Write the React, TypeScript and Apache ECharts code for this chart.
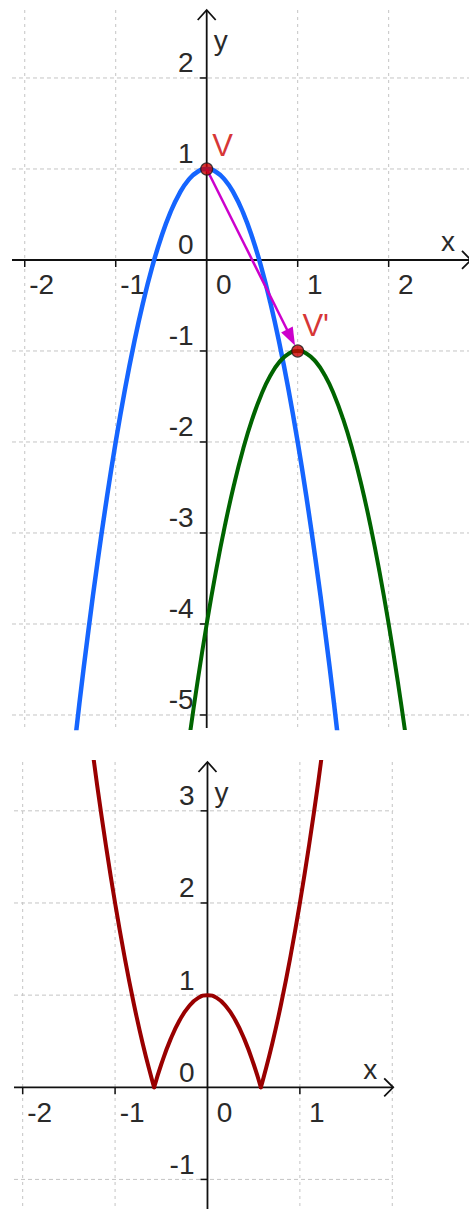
import React, { useEffect, useRef } from "react";
import * as echarts from "echarts";

const FONT = 'Arial, "Liberation Sans", Helvetica, sans-serif';

// ---------- Top panel (f(x) = -3x^2 + 1 and its translate) ----------
const topXRange = [-2.14, 2.905];
const topYRange = [-5.143, 2.747];
const topXGrid = [-2, -1, 1, 2];
const topYGrid = [2, 1, -1, -2, -3, -4, -5];
const topXTicks = [-2, -1, 1, 2];
const topYTicks = [2, 1, -1, -2, -3, -4, -5];
const topXLabels = [-2, -1, 0, 1, 2];
const topYLabels = [2, 1, 0, -1, -2, -3, -4, -5];

const blueCurve = [
  [-1.5, -5.75], [-1.4, -4.88], [-1.3, -4.07], [-1.2, -3.32], [-1.1, -2.63],
  [-1.0, -2.0], [-0.9, -1.43], [-0.8, -0.92], [-0.7, -0.47], [-0.6, -0.08],
  [-0.5, 0.25], [-0.4, 0.52], [-0.3, 0.73], [-0.2, 0.88], [-0.1, 0.97],
  [0, 1], [0.1, 0.97], [0.2, 0.88], [0.3, 0.73], [0.4, 0.52], [0.5, 0.25],
  [0.6, -0.08], [0.7, -0.47], [0.8, -0.92], [0.9, -1.43], [1.0, -2.0],
  [1.1, -2.63], [1.2, -3.32], [1.3, -4.07], [1.4, -4.88], [1.5, -5.75],
];

const greenCurve = [
  [-0.4, -6.88], [-0.3, -6.07], [-0.2, -5.32], [-0.1, -4.63], [0, -4],
  [0.1, -3.43], [0.2, -2.92], [0.3, -2.47], [0.4, -2.08], [0.5, -1.75],
  [0.6, -1.48], [0.7, -1.27], [0.8, -1.12], [0.9, -1.03], [1.0, -1],
  [1.1, -1.03], [1.2, -1.12], [1.3, -1.27], [1.4, -1.48], [1.5, -1.75],
  [1.6, -2.08], [1.7, -2.47], [1.8, -2.92], [1.9, -3.43], [2.0, -4],
  [2.1, -4.63], [2.2, -5.32], [2.3, -6.07], [2.4, -6.88],
];

const points = [
  { name: "V", value: [0, 1], offset: [16, -23] },
  { name: "V'", value: [1, -1], offset: [18, -25] },
];
const vector = [[0, 1, 1, -1]];

// ---------- Bottom panel (|3x^2 - 1|) ----------
const botXRange = [-2.094, 2.01];
const botYRange = [-1.321, 3.53];
const botXGrid = [-2, -1, 1, 2];
const botYGrid = [3, 2, 1, -1];
const botXTicks = [-2, -1, 1];
const botYTicks = [3, 2, 1, -1];
const botXLabels = [-2, -1, 0, 1];
const botYLabels = [3, 2, 1, 0, -1];

const redLeft = [
  [-1.3, 4.07], [-1.2, 3.32], [-1.1, 2.63], [-1.0, 2.0], [-0.9, 1.43],
  [-0.8, 0.92], [-0.7, 0.47], [-0.6, 0.08], [-0.577, 0],
];
const redMiddle = [
  [-0.577, 0], [-0.5, 0.25], [-0.4, 0.52], [-0.3, 0.73], [-0.2, 0.88],
  [-0.1, 0.97], [0, 1], [0.1, 0.97], [0.2, 0.88], [0.3, 0.73], [0.4, 0.52],
  [0.5, 0.25], [0.577, 0],
];
const redRight = [
  [0.577, 0], [0.6, 0.08], [0.7, 0.47], [0.8, 0.92], [0.9, 1.43],
  [1.0, 2.0], [1.1, 2.63], [1.2, 3.32], [1.3, 4.07],
];

// ---------- styles ----------
const GRID_COLOR = "#c4c4c4";
const AXIS_COLOR = "#111";
const LABEL_COLOR = "#2a2a2a";
const LABEL_SIZE = 28;

function fmt(v: number) {
  return v < 0 ? "-" + Math.abs(v) : String(v);
}

function base(gi: number, z: number) {
  return {
    type: "custom",
    coordinateSystem: "cartesian2d",
    xAxisIndex: gi,
    yAxisIndex: gi,
    silent: true,
    z,
  };
}

function textEl(x: number, y: number, text: string, align: string, size = LABEL_SIZE, fill = LABEL_COLOR) {
  return {
    type: "text",
    x,
    y,
    style: { text, fill, fontSize: size, fontFamily: FONT, align, verticalAlign: "middle" },
  };
}

function panelSeries(
  gi: number,
  xGrid: number[],
  yGrid: number[],
  xTicks: number[],
  yTicks: number[],
  xLabels: number[],
  yLabels: number[]
) {
  return [
    {
      ...base(gi, 1),
      data: xGrid.map((v) => [v, 0]),
      renderItem: (params: any, api: any) => {
        const cs = params.coordSys;
        const p = api.coord([api.value(0), 0]);
        return {
          type: "line",
          shape: { x1: p[0], y1: cs.y, x2: p[0], y2: cs.y + cs.height },
          style: { stroke: GRID_COLOR, lineWidth: 1, lineDash: [3, 4] },
        };
      },
    },
    {
      ...base(gi, 1),
      data: yGrid.map((v) => [0, v]),
      renderItem: (params: any, api: any) => {
        const cs = params.coordSys;
        const p = api.coord([0, api.value(1)]);
        return {
          type: "line",
          shape: { x1: cs.x, y1: p[1], x2: cs.x + cs.width, y2: p[1] },
          style: { stroke: GRID_COLOR, lineWidth: 1, lineDash: [4, 3] },
        };
      },
    },
    {
      ...base(gi, 2),
      data: xTicks.map((v) => [v, 0]),
      renderItem: (params: any, api: any) => {
        const p = api.coord([api.value(0), 0]);
        return {
          type: "line",
          shape: { x1: p[0], y1: p[1], x2: p[0], y2: p[1] + 7 },
          style: { stroke: AXIS_COLOR, lineWidth: 1.5 },
        };
      },
    },
    {
      ...base(gi, 2),
      data: yTicks.map((v) => [0, v]),
      renderItem: (params: any, api: any) => {
        const p = api.coord([0, api.value(1)]);
        return {
          type: "line",
          shape: { x1: p[0] - 7, y1: p[1], x2: p[0], y2: p[1] },
          style: { stroke: AXIS_COLOR, lineWidth: 1.5 },
        };
      },
    },
    {
      ...base(gi, 2),
      data: xLabels.map((v) => [v, 0]),
      renderItem: (params: any, api: any) => {
        const v = api.value(0);
        const p = api.coord([v, 0]);
        return textEl(p[0] + 17, p[1] + 25, fmt(v), "center");
      },
    },
    {
      ...base(gi, 2),
      data: yLabels.map((v) => [0, v]),
      renderItem: (params: any, api: any) => {
        const v = api.value(1);
        const p = api.coord([0, v]);
        return textEl(p[0] - 13, p[1] - 15, fmt(v), "right");
      },
    },
    {
      ...base(gi, 2),
      data: [[0, 0]],
      renderItem: (params: any, api: any) => {
        const cs = params.coordSys;
        const o = api.coord([0, 0]);
        const R = cs.x + cs.width;
        const T = cs.y;
        const st = { stroke: AXIS_COLOR, lineWidth: 1.8, fill: "none" };
        return {
          type: "group",
          children: [
            { type: "line", shape: { x1: cs.x, y1: o[1], x2: R, y2: o[1] }, style: st },
            { type: "line", shape: { x1: o[0], y1: cs.y + cs.height, x2: o[0], y2: T }, style: st },
            {
              type: "polyline",
              shape: { points: [[R - 9, o[1] - 9], [R, o[1]], [R - 9, o[1] + 9]] },
              style: st,
            },
            {
              type: "polyline",
              shape: { points: [[o[0] - 9, T + 10], [o[0], T], [o[0] + 9, T + 10]] },
              style: st,
            },
            textEl(R - 23, o[1] - 18, "x", "center"),
            textEl(o[0] + 14, T + 30, "y", "center"),
          ],
        };
      },
    },
  ];
}

function curve(gi: number, data: number[][], color: string, width: number) {
  return {
    type: "line",
    xAxisIndex: gi,
    yAxisIndex: gi,
    data,
    smooth: true,
    showSymbol: false,
    symbol: "none",
    clip: true,
    silent: true,
    z: 3,
    lineStyle: { color, width, cap: "round", join: "round" },
  };
}

const option: any = {
  animation: false,
  backgroundColor: "#ffffff",
  grid: [
    { left: 12, top: 10, width: 459, height: 718, outerBoundsMode: "none" },
    { left: 14, top: 762, width: 379.2, height: 447, outerBoundsMode: "none" },
  ],
  xAxis: [
    { gridIndex: 0, type: "value", min: topXRange[0], max: topXRange[1], show: false },
    { gridIndex: 1, type: "value", min: botXRange[0], max: botXRange[1], show: false },
  ],
  yAxis: [
    { gridIndex: 0, type: "value", min: topYRange[0], max: topYRange[1], show: false },
    { gridIndex: 1, type: "value", min: botYRange[0], max: botYRange[1], show: false },
  ],
  series: [
    ...panelSeries(0, topXGrid, topYGrid, topXTicks, topYTicks, topXLabels, topYLabels),
    ...panelSeries(1, botXGrid, botYGrid, botXTicks, botYTicks, botXLabels, botYLabels),
    curve(0, blueCurve, "#1565ff", 4.5),
    curve(0, greenCurve, "#006400", 4),
    curve(1, redLeft, "#990000", 4),
    curve(1, redMiddle, "#990000", 4),
    curve(1, redRight, "#990000", 4),
    {
      ...base(0, 4),
      data: vector,
      encode: { x: [0, 2], y: [1, 3] },
      renderItem: (params: any, api: any) => {
        const p1 = api.coord([api.value(0), api.value(1)]);
        const p2 = api.coord([api.value(2), api.value(3)]);
        const dx = p2[0] - p1[0];
        const dy = p2[1] - p1[1];
        const L = Math.sqrt(dx * dx + dy * dy);
        const ux = dx / L;
        const uy = dy / L;
        const tip = [p2[0] - ux * 6, p2[1] - uy * 6];
        const b = [tip[0] - ux * 18, tip[1] - uy * 18];
        const nx = -uy;
        const ny = ux;
        return {
          type: "group",
          children: [
            {
              type: "line",
              shape: { x1: p1[0], y1: p1[1], x2: b[0] + ux * 2, y2: b[1] + uy * 2 },
              style: { stroke: "#cc00cc", lineWidth: 2.5 },
            },
            {
              type: "polygon",
              shape: {
                points: [
                  tip,
                  [b[0] + nx * 6.5, b[1] + ny * 6.5],
                  [b[0] - nx * 6.5, b[1] - ny * 6.5],
                ],
              },
              style: { fill: "#cc00cc" },
            },
          ],
        };
      },
    },
    {
      type: "scatter",
      xAxisIndex: 0,
      yAxisIndex: 0,
      z: 5,
      silent: true,
      symbolSize: 12,
      itemStyle: { color: "#cc0000", borderColor: "#1a1a1a", borderWidth: 1.2 },
      data: points.map((p) => ({
        name: p.name,
        value: p.value,
        label: { offset: p.offset },
      })),
      label: {
        show: true,
        position: "inside",
        formatter: "{b}",
        color: "#cc0000",
        fontSize: 31,
        fontFamily: FONT,
        align: "center",
        verticalAlign: "middle",
      },
    },
  ],
};

export default function App() {
  const ref = useRef<HTMLDivElement>(null);
  useEffect(() => {
    const chart = echarts.init(ref.current as HTMLDivElement, null, { renderer: "svg" });
    chart.setOption(option);
    return () => chart.dispose();
  }, []);
  return (
    <div
      ref={ref}
      style={{ position: "absolute", left: 0, top: 0, width: 469, height: 1209, background: "#fff" }}
    />
  );
}
